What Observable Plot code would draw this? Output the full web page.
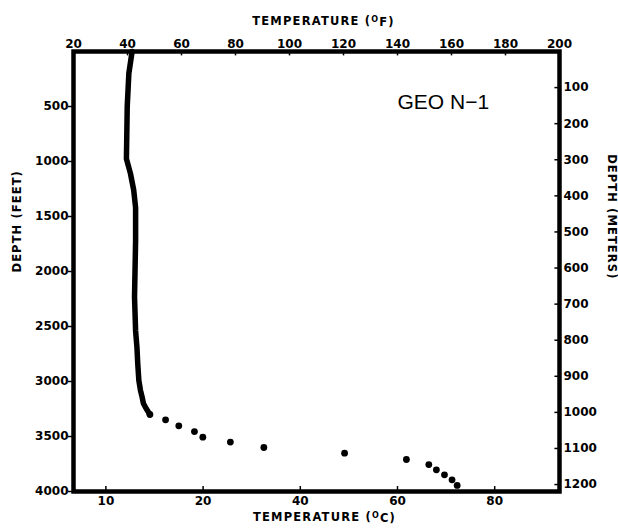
<!DOCTYPE html>
<html>
<head>
<meta charset="utf-8">
<script src="https://cdn.jsdelivr.net/npm/d3@7"></script>
<script src="https://cdn.jsdelivr.net/npm/@observablehq/plot@0.6"></script>
<style>
  html, body { margin: 0; padding: 0; background: #fff; }
</style>
</head>
<body>
<div id="chart"></div>
<script>
// Tick labels
const fTicks = [20, 40, 60, 80, 100, 120, 140, 160, 180, 200];        // °F (top)
const cTicks = [0, 20, 40, 60, 80];                                      // °C (bottom)
const cLabels = ["10", "20", "40", "60", "80"];                          // as printed
const ftTicks = [500, 1000, 1500, 2000, 2500, 3000, 3500, 4000];         // feet (left)
const mTicks = [100, 200, 300, 400, 500, 600, 700, 800, 900, 1000, 1100, 1200]; // meters (right)

// Temperature log, continuous part (depth in feet, temperature in °F)
const lineDepth = [0, 200, 500, 975, 1110, 1260, 1420, 1720, 2230, 2540, 2690, 2840, 2990, 3080, 3140, 3200, 3245, 3300];
const lineTemp  = [41.7, 40.5, 39.9, 39.6, 41.1, 42.3, 43.0, 43.0, 42.6, 43.0, 43.5, 43.8, 44.2, 44.8, 45.4, 45.9, 46.9, 48.3];

// Discrete readings below 3300 ft
const dotDepth = [3300, 3348, 3403, 3455, 3506, 3551, 3600, 3652, 3709, 3755, 3803, 3848, 3894, 3945];
const dotTemp  = [48.3, 54.1, 59.0, 64.8, 67.9, 78.1, 90.5, 120.4, 143.3, 151.6, 154.4, 157.4, 160.2, 162.1];

const FT_PER_M = 3.2808;
const cToF = c => c * 1.8 + 32;

const lineData = lineDepth.map((d, i) => ({ft: d, f: lineTemp[i]}));
const dotData = dotDepth.map((d, i) => ({ft: d, f: dotTemp[i]}));
const cLabelOf = new Map(cTicks.map((c, i) => [cToF(c), cLabels[i]]));
const mFeet = mTicks.map(m => m * FT_PER_M);

const chart = Plot.plot({
  width: 618,
  height: 531,
  marginLeft: 73,
  marginRight: 59,
  marginTop: 51,
  marginBottom: 40,
  style: {fontFamily: "'DejaVu Sans', sans-serif", fontSize: "12px", fontWeight: "bold", color: "#000", background: "#fff"},
  x: {domain: [20, 200]},
  y: {domain: [0, 4000], reverse: true},
  marks: [
    // inward ticks, top (°F)
    Plot.ruleX(fTicks.slice(1, -1), {x: d => d, y1: 0, y2: 40, stroke: "#000", strokeWidth: 1.5}),
    // inward ticks, bottom (°C)
    Plot.ruleX(cTicks, {x: d => cToF(d), y1: 4000, y2: 3955, stroke: "#000", strokeWidth: 1.5}),
    // inward ticks, right (meters)
    Plot.ruleY(mFeet, {y: d => d, x1: 198.3, x2: 200, stroke: "#000", strokeWidth: 1.5}),
    Plot.axisX({anchor: "top", ticks: fTicks, tickSize: 0, tickPadding: 4, label: null, fontSize: 12}),
    Plot.axisX({anchor: "bottom", ticks: cTicks.map(cToF), tickFormat: d => cLabelOf.get(d), tickSize: 0, tickPadding: 5, label: null, fontSize: 12}),
    Plot.axisY({anchor: "left", ticks: ftTicks, tickFormat: d => String(d), tickSize: 5, tickPadding: 0, strokeWidth: 1.5, label: null, fontSize: 12}),
    Plot.axisY({anchor: "right", ticks: mFeet, tickFormat: d => String(Math.round(d / FT_PER_M)), tickSize: 0, tickPadding: 4, label: null, fontSize: 12}),
    Plot.frame({stroke: "#000", strokeWidth: 4.5}),
    Plot.line(lineData, {x: "f", y: "ft", stroke: "#000", strokeWidth: 5.5, strokeLinecap: "round", strokeLinejoin: "round"}),
    Plot.dot(dotData, {x: "f", y: "ft", r: 3.4, fill: "#000", stroke: null}),
    // titles
    Plot.text(["TEMPERATURE (°F)"], {frameAnchor: "top", dx: 7, dy: -30, fontSize: 11.5, fontWeight: "bold", lineAnchor: "middle"}),
    Plot.text(["TEMPERATURE (°C)"], {frameAnchor: "bottom", dx: 8, dy: 26, fontSize: 11.5, fontWeight: "bold", lineAnchor: "middle"}),
    Plot.text(["DEPTH (FEET)"], {frameAnchor: "left", dx: -56, dy: 1, rotate: -90, fontSize: 11.5, fontWeight: "bold", lineAnchor: "middle"}),
    Plot.text(["DEPTH (METERS)"], {frameAnchor: "right", dx: 52, dy: 8, rotate: 90, fontSize: 11.5, fontWeight: "bold", lineAnchor: "middle"}),
    Plot.text(["GEO N\u22121"], {x: 140, y: 520, textAnchor: "start", lineAnchor: "bottom", fontSize: 21, fontWeight: "normal", fontFamily: "'Liberation Sans', Arial, sans-serif"})
  ]
});

// superscript "O" for the degree symbol, as printed; slight letter spacing on titles
d3.select(chart).selectAll("text").each(function() {
  const t = this.textContent;
  const m = t.match(/^(TEMPERATURE \()°([FC])\)$/);
  if (m) {
    const sel = d3.select(this);
    sel.text(null).attr("letter-spacing", "1.2px");
    sel.append("tspan").text(m[1]);
    sel.append("tspan").attr("font-size", "8px").attr("dy", "-0.45em").text("O");
    sel.append("tspan").attr("dy", "0.35em").text(m[2] + ")");
  } else if (/^DEPTH \(/.test(t)) {
    d3.select(this).attr("letter-spacing", "1.1px");
  }
});

document.getElementById("chart").appendChild(chart);
</script>
</body>
</html>
